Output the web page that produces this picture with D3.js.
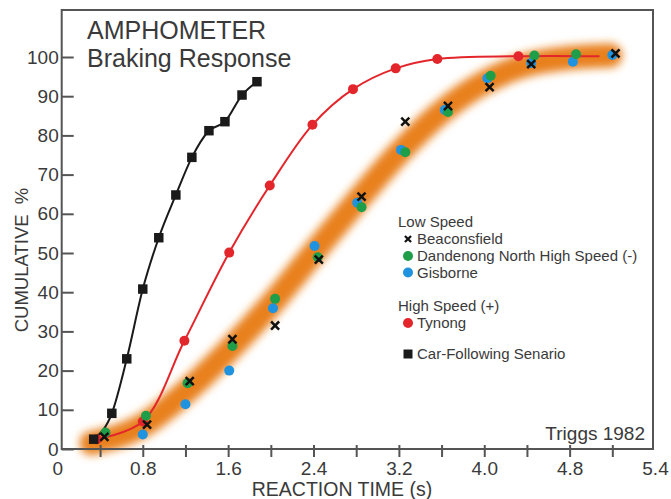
<!DOCTYPE html>
<html>
<head>
<meta charset="utf-8">
<script src="https://cdn.jsdelivr.net/npm/d3@7"></script>
<style>
  body { margin: 0; background: #fff; }
  text { font-family: "Liberation Sans", Arial, sans-serif; fill: #3a3a3a; }
</style>
</head>
<body>
<svg id="chart" width="671" height="499"></svg>
<script>
// values (x = reaction time in s, y = cumulative %)
const carFollowingX = [0.34, 0.51, 0.65, 0.80, 0.95, 1.11, 1.26, 1.42, 1.57, 1.73, 1.87];
const carFollowingY = [2.5, 9.1, 23.0, 40.8, 53.9, 64.8, 74.4, 81.2, 83.5, 90.3, 93.7];

const tynongX = [0.37, 0.80, 1.19, 1.61, 1.99, 2.39, 2.77, 3.17, 3.56, 4.32];
const tynongY = [2.5, 7.0, 27.6, 50.1, 67.2, 82.7, 91.8, 97.1, 99.5, 100.2];
const tynongCurveEnd = 5.08;

const beaconsfieldX = [0.44, 0.84, 1.24, 1.64, 2.04, 2.45, 2.85, 3.26, 3.66, 4.05, 4.44, 5.23];
const beaconsfieldY = [3.1, 6.2, 17.3, 28.0, 31.5, 48.3, 64.4, 83.5, 87.5, 92.3, 98.2, 100.9];

const dandenongX = [0.45, 0.83, 1.22, 1.64, 2.04, 2.44, 2.85, 3.26, 3.66, 4.06, 4.47, 4.86];
const dandenongY = [4.2, 8.5, 16.8, 26.3, 38.3, 48.9, 61.7, 75.7, 86.0, 95.2, 100.4, 100.7];

const gisborneX = [0.80, 1.20, 1.61, 2.02, 2.41, 2.81, 3.22, 3.63, 4.03, 4.44, 4.83, 5.20];
const gisborneY = [3.7, 11.4, 20.0, 35.9, 51.8, 62.8, 76.3, 86.5, 94.6, 98.5, 98.8, 100.5];

// hand-drawn orange trend band through the low speed sites
const bandX = [0.32, 0.8, 1.2, 1.6, 2.0, 2.4, 2.8, 3.2, 3.6, 4.0, 4.4, 4.8, 5.18];
const bandY = [1.5, 6.0, 14.5, 25.0, 36.8, 50.0, 63.0, 75.5, 86.0, 93.5, 98.0, 99.8, 100.4];

const xTickValues = [0.4, 0.8, 1.2, 1.6, 2.0, 2.4, 2.8, 3.2, 3.6, 4.0, 4.4, 4.8, 5.2];
const xLabelValues = [0, 0.8, 1.6, 2.4, 3.2, 4.0, 4.8, 5.6];
const xTickLabels = ["0", "0.8", "1.6", "2.4", "3.2", "4.0", "4.8", "5.4"];
const yTickValues = [0, 10, 20, 30, 40, 50, 60, 70, 80, 90, 100];

const zip = (xs, ys) => xs.map((v, i) => [v, ys[i]]);

const svg = d3.select("#chart");
const frame = { left: 61.7, right: 653, top: 10, bottom: 449 };

const x = d3.scaleLinear().domain([0, 5.6]).range([57.4, 655]);
const y = d3.scaleLinear().domain([0, 100]).range([449, 57]);

const line = d3.line().x(d => x(d[0])).y(d => y(d[1])).curve(d3.curveMonotoneX);
const smooth = d3.line().x(d => x(d[0])).y(d => y(d[1])).curve(d3.curveCatmullRom.alpha(0.5));

// blur for the band
const defs = svg.append("defs");
defs.append("filter")
    .attr("id", "soft")
    .attr("filterUnits", "userSpaceOnUse")
    .attr("x", 0).attr("y", 0).attr("width", 671).attr("height", 499)
    .append("feGaussianBlur").attr("stdDeviation", 4);

svg.append("path")
    .datum(zip(bandX, bandY))
    .attr("d", line)
    .attr("fill", "none")
    .attr("stroke", "#e8801e")
    .attr("stroke-width", 24)
    .attr("stroke-linecap", "round")
    .attr("filter", "url(#soft)");

// frame
svg.append("rect")
    .attr("x", frame.left).attr("y", frame.top)
    .attr("width", frame.right - frame.left)
    .attr("height", frame.bottom - frame.top)
    .attr("fill", "none")
    .attr("stroke", "#555")
    .attr("stroke-width", 2);

// y axis, ticks pointing inward
const yAxis = svg.append("g")
    .attr("transform", `translate(${frame.left},0)`)
    .call(d3.axisLeft(y).tickValues(yTickValues).tickSizeInner(-12).tickSizeOuter(0).tickPadding(3));
yAxis.select(".domain").remove();
yAxis.selectAll("line").attr("stroke", "#555").attr("stroke-width", 2);
yAxis.selectAll("text").style("font-size", "19px").attr("fill", "#4a4a4a")
    .attr("font-family", null);

// x axis ticks crossing the frame line
const xTicks = svg.append("g")
    .attr("transform", `translate(0,${frame.bottom - 4})`)
    .call(d3.axisBottom(x).tickValues(xTickValues).tickSize(12).tickFormat(""));
xTicks.select(".domain").remove();
xTicks.selectAll("line").attr("stroke", "#555").attr("stroke-width", 2);

const xLabels = svg.append("g")
    .attr("transform", `translate(0,${frame.bottom})`)
    .call(d3.axisBottom(x).tickValues(xLabelValues).tickSize(0).tickPadding(12.5)
        .tickFormat((d, i) => xTickLabels[i]));
xLabels.select(".domain").remove();
xLabels.selectAll("text").style("font-size", "19px").attr("fill", "#4a4a4a")
    .attr("font-family", null);

// axis titles
svg.append("text")
    .attr("x", 342).attr("y", 496)
    .attr("text-anchor", "middle")
    .style("font-size", "19.5px")
    .text("REACTION TIME (s)");

svg.append("text")
    .attr("transform", "translate(28,260) rotate(-90)")
    .attr("text-anchor", "middle")
    .attr("xml:space", "preserve")
    .style("font-size", "18.5px")
    .style("white-space", "pre")
    .text("CUMULATIVE  %");

// title
svg.append("text").attr("x", 87).attr("y", 39).style("font-size", "25px").attr("fill", "#333")
    .text("AMPHOMETER");
svg.append("text").attr("x", 87).attr("y", 67).style("font-size", "25px").attr("fill", "#333")
    .text("Braking Response");

svg.append("text")
    .attr("x", 645).attr("y", 440)
    .attr("text-anchor", "end")
    .style("font-size", "19px")
    .text("Triggs 1982");

// curves
svg.append("path")
    .datum(zip(tynongX, tynongY).concat([[tynongCurveEnd, 100.2]]))
    .attr("d", smooth)
    .attr("fill", "none")
    .attr("stroke", "#e3262b")
    .attr("stroke-width", 2);

svg.append("path")
    .datum(zip(carFollowingX, carFollowingY))
    .attr("d", line)
    .attr("fill", "none")
    .attr("stroke", "#1a1a1a")
    .attr("stroke-width", 2);

// markers
const RED = "#e3262b", GREEN = "#1f9e49", BLUE = "#1f93e0";

function dots(xs, ys, color) {
    svg.append("g").selectAll("circle")
        .data(zip(xs, ys))
        .join("circle")
        .attr("cx", d => x(d[0]))
        .attr("cy", d => y(d[1]))
        .attr("r", 5)
        .attr("fill", color);
}

dots(tynongX, tynongY, RED);
dots(gisborneX, gisborneY, BLUE);
dots(dandenongX, dandenongY, GREEN);

const times = d3.symbol(d3.symbolTimes, 44);
svg.append("g").selectAll("path")
    .data(zip(beaconsfieldX, beaconsfieldY))
    .join("path")
    .attr("transform", d => `translate(${x(d[0])},${y(d[1])})`)
    .attr("d", times)
    .attr("fill", "none")
    .attr("stroke", "#111")
    .attr("stroke-width", 2.5);

const square = d3.symbol(d3.symbolSquare, 90);
svg.append("g").selectAll("path")
    .data(zip(carFollowingX, carFollowingY))
    .join("path")
    .attr("transform", d => `translate(${x(d[0])},${y(d[1])})`)
    .attr("d", square)
    .attr("fill", "#1a1a1a");

// legend
const legend = svg.append("g").style("font-size", "15px");
const legendRows = [
    { label: "Low Speed", y: 227, head: true },
    { label: "Beaconsfield", y: 244, mark: "x" },
    { label: "Dandenong North High Speed (-)", y: 261, mark: "circle", color: GREEN },
    { label: "Gisborne", y: 277.5, mark: "circle", color: BLUE },
    { label: "High Speed (+)", y: 311, head: true },
    { label: "Tynong", y: 328, mark: "circle", color: RED },
    { label: "Car-Following Senario", y: 359, mark: "square" }
];
legendRows.forEach(r => {
    legend.append("text")
        .attr("x", r.head ? 398 : 417)
        .attr("y", r.y)
        .text(r.label);
    const cy = r.y - 5;
    if (r.mark === "circle") {
        legend.append("circle").attr("cx", 408).attr("cy", cy).attr("r", 5).attr("fill", r.color);
    } else if (r.mark === "x") {
        legend.append("path").attr("transform", `translate(408,${cy})`)
            .attr("d", d3.symbol(d3.symbolTimes, 26)).attr("stroke", "#111").attr("stroke-width", 2.2);
    } else if (r.mark === "square") {
        legend.append("path").attr("transform", `translate(408,${cy})`)
            .attr("d", d3.symbol(d3.symbolSquare, 81)).attr("fill", "#1a1a1a");
    }
});
</script>
</body>
</html>
